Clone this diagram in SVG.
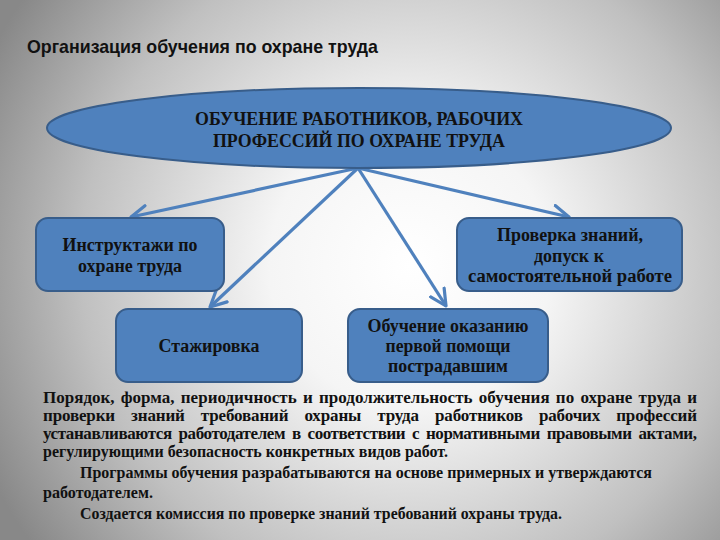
<svg xmlns="http://www.w3.org/2000/svg" width="720" height="540" viewBox="0 0 720 540">
<defs>
<radialGradient id="bg" gradientUnits="userSpaceOnUse" cx="410" cy="265" r="470">
<stop offset="0" stop-color="#ffffff"/>
<stop offset="0.3" stop-color="#f5f5f5"/>
<stop offset="0.7" stop-color="#c0c0c0"/>
<stop offset="1" stop-color="#888888"/>
</radialGradient>
<marker id="ah" viewBox="0 0 12 12" refX="11" refY="6" markerWidth="6" markerHeight="6" orient="auto" markerUnits="strokeWidth">
<path d="M1,1 L11,6 L1,11" fill="none" stroke="#4f81bd" stroke-width="2" stroke-linecap="round" stroke-linejoin="round"/>
</marker>
<style>
.node{fill:#4f81bd;stroke:#385d8a;stroke-width:2}
.lbl{font-family:"Liberation Serif","Times New Roman",serif;font-weight:bold;font-size:18px;fill:#111;text-anchor:middle}
.para{font-family:"Liberation Serif","Times New Roman",serif;font-weight:bold;font-size:17px;fill:#111}
.conn{stroke:#4f81bd;stroke-width:3.2;fill:none;marker-end:url(#ah)}
</style>
</defs>
<rect x="0" y="0" width="720" height="540" fill="url(#bg)"/>
<text x="27" y="53" font-family="'Liberation Sans',Arial,sans-serif" font-weight="bold" font-size="19" fill="#111" textLength="351" lengthAdjust="spacingAndGlyphs">Организация обучения по охране труда</text>
<g id="connectors">
<line class="conn" x1="358" y1="168" x2="131" y2="217"/>
<line class="conn" x1="358" y1="168" x2="210" y2="307"/>
<line class="conn" x1="358" y1="168" x2="446" y2="306"/>
<line class="conn" x1="358" y1="168" x2="569" y2="217"/>
</g>
<g id="root">
<ellipse class="node" cx="359" cy="128" rx="312" ry="40"/>
<text class="lbl" x="359" y="125" textLength="328" lengthAdjust="spacingAndGlyphs">ОБУЧЕНИЕ РАБОТНИКОВ, РАБОЧИХ</text>
<text class="lbl" x="359" y="147" textLength="292" lengthAdjust="spacingAndGlyphs">ПРОФЕССИЙ ПО ОХРАНЕ ТРУДА</text>
</g>
<g id="instr">
<rect class="node" x="36" y="218" width="188" height="73" rx="12"/>
<text class="lbl" x="130" y="251" textLength="135" lengthAdjust="spacingAndGlyphs">Инструктажи по</text>
<text class="lbl" x="130" y="272" textLength="104" lengthAdjust="spacingAndGlyphs">охране труда</text>
</g>
<g id="stazh">
<rect class="node" x="116" y="309" width="186" height="73" rx="12"/>
<text class="lbl" x="209" y="352" textLength="101" lengthAdjust="spacingAndGlyphs">Стажировка</text>
</g>
<g id="pomosh">
<rect class="node" x="348" y="309" width="200" height="73" rx="12"/>
<text class="lbl" x="448" y="332" textLength="161" lengthAdjust="spacingAndGlyphs">Обучение оказанию</text>
<text class="lbl" x="448" y="352" textLength="125" lengthAdjust="spacingAndGlyphs">первой помощи</text>
<text class="lbl" x="448" y="372" textLength="120" lengthAdjust="spacingAndGlyphs">пострадавшим</text>
</g>
<g id="proverka">
<rect class="node" x="457" y="218" width="225" height="73" rx="12"/>
<text class="lbl" x="570" y="241" textLength="146" lengthAdjust="spacingAndGlyphs">Проверка знаний,</text>
<text class="lbl" x="569" y="262" textLength="70" lengthAdjust="spacingAndGlyphs">допуск к</text>
<text class="lbl" x="570" y="282" textLength="204" lengthAdjust="spacingAndGlyphs">самостоятельной работе</text>
</g>
<g id="text">
<text class="para" x="43" y="403" word-spacing="2" textLength="654" lengthAdjust="spacing">Порядок, форма, периодичность и продолжительность обучения по охране труда и</text>
<text class="para" x="43" y="421" word-spacing="12" textLength="654" lengthAdjust="spacing">проверки знаний требований охраны труда работников рабочих профессий</text>
<text class="para" x="43" y="439" word-spacing="3" textLength="654" lengthAdjust="spacing">устанавливаются работодателем в соответствии с нормативными правовыми актами,</text>
<text class="para" x="43" y="457" textLength="405" lengthAdjust="spacingAndGlyphs">регулирующими безопасность конкретных видов работ.</text>
<text class="para" x="80" y="478" textLength="572" lengthAdjust="spacingAndGlyphs">Программы обучения разрабатываются на основе примерных и утверждаются</text>
<text class="para" x="43" y="498" textLength="110" lengthAdjust="spacingAndGlyphs">работодателем.</text>
<text class="para" x="80" y="519" textLength="482" lengthAdjust="spacingAndGlyphs">Создается комиссия по проверке знаний требований охраны труда.</text>
</g>
</svg>
